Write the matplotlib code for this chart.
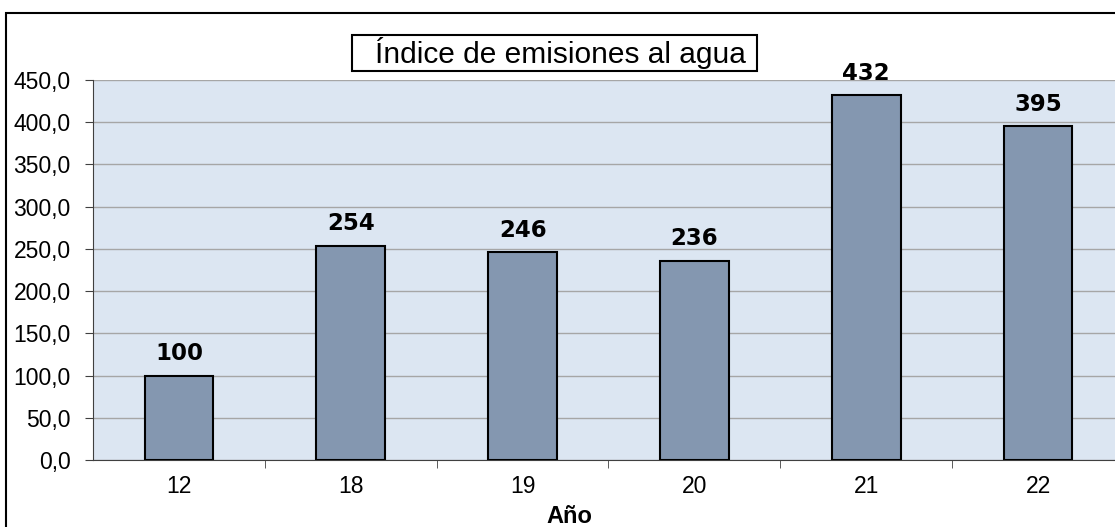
import numpy as np
import matplotlib.pyplot as plt
from matplotlib.patches import Rectangle

years = ['12', '18', '19', '20', '21', '22']
values = [100, 254, 246, 236, 432, 395]
yticks = np.arange(0, 451, 50)

plt.rcParams['font.family'] = ['Liberation Sans', 'DejaVu Sans']

W, H = 1115, 527
fig = plt.figure(figsize=(W / 100, H / 100), dpi=100)
# outer border of the chart
fig.patches.append(Rectangle((6 / W, -0.01), 1.1, 1 - 13 / H + 0.01,
                             transform=fig.transFigure, fill=False,
                             edgecolor='black', linewidth=1.5))

ax = fig.add_axes([93 / W, 1 - 460 / H, 1031 / W, 380 / H])
ax.set_facecolor('#dce6f2')
x = np.arange(len(years))
ax.bar(x, values, width=0.4, color='#8497b0', edgecolor='black', linewidth=1.5, zorder=3)
for xi, v in zip(x, values):
    ax.annotate(str(v), (xi, v), xytext=(0, 11), textcoords='offset points',
                ha='center', va='baseline', fontsize=16.5, fontweight='bold',
                family=['DejaVu Sans'])

ax.set_xlim(-0.5, len(years) - 0.5)
ax.set_ylim(0, 450)
ax.set_yticks(yticks)
ax.set_yticklabels([f'{t:.1f}'.replace('.', ',') for t in yticks], fontsize=16.5)
ax.yaxis.grid(True, color='#a6a6a6', linewidth=1, zorder=0)
ax.set_xticks(x)
ax.set_xticklabels(years, fontsize=16.5)
ax.set_xticks(np.arange(0.5, len(years) - 0.5), minor=True)
ax.tick_params(axis='x', which='major', length=0, pad=11)
ax.tick_params(axis='x', which='minor', length=6, color='#404040')
ax.tick_params(axis='y', length=6, color='#404040', pad=10)
for s in ['top', 'right']:
    ax.spines[s].set_visible(False)
ax.spines['left'].set_color('#404040')
ax.spines['bottom'].set_color('#404040')

fig.text(569 / W, 1 - 523 / H, 'Año', ha='center', va='baseline',
         fontsize=17, fontweight='bold')

# title box
fig.patches.append(Rectangle((352 / W, 1 - 71 / H), 405 / W, 36 / H,
                             transform=fig.transFigure, facecolor='white',
                             edgecolor='black', linewidth=1.5))
fig.text(560 / W, 1 - 53 / H, 'Índice de emisiones al agua', ha='center', va='center',
         fontsize=21.5)

fig.savefig('out.png', dpi=100)
